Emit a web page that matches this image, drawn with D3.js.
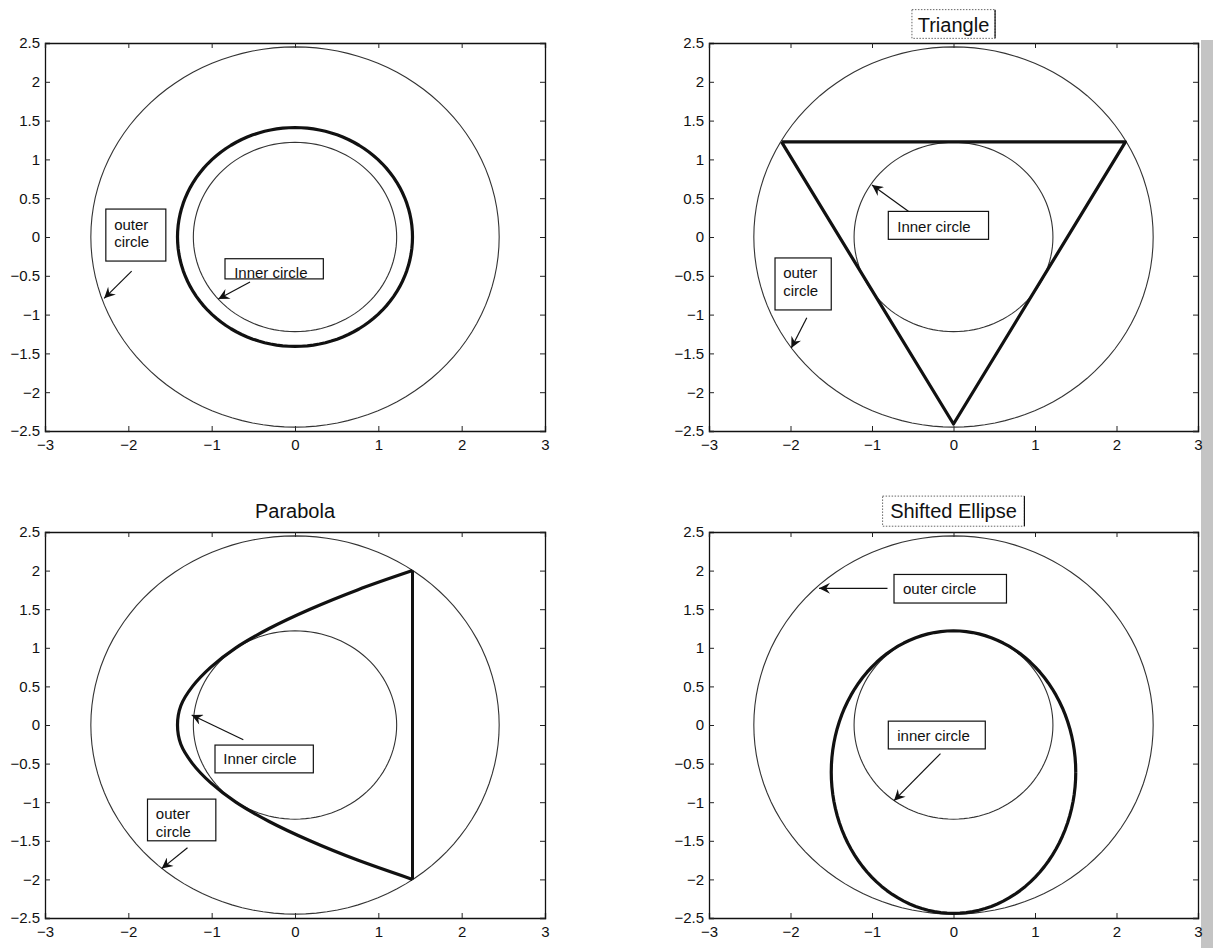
<!DOCTYPE html>
<html>
<head>
<meta charset="utf-8">
<script src="https://cdn.jsdelivr.net/npm/d3@7"></script>
<style>
body { margin: 0; background: #fff; }
text { font-family: "Liberation Sans", Arial, sans-serif; }
</style>
</head>
<body>
<svg id="chart" width="1213" height="948"></svg>
<script>
// axis ticks shared by all four panels
var xTicks = [-3, -2, -1, 0, 1, 2, 3];
var yTicks = [2.5, 2, 1.5, 1, 0.5, 0, -0.5, -1, -1.5, -2, -2.5];
var xDomain = [-3, 3];
var yDomain = [-2.5, 2.5];

// the two reference circles (radius)
var outerRadius = 2.45;
var innerRadius = 1.22;

// panel 1: circle test curve
var circleRadius = 1.41;
// panel 2: triangle vertices
var triangleX = [-2.11, 2.11, 0, -2.11];
var triangleY = [1.225, 1.225, -2.41, 1.225];
// panel 3: parabola, read along y, closed by the vertical side at x = 1.41
var parabolaY = [2, 1.75, 1.5, 1.25, 1, 0.75, 0.5, 0.25, 0, -0.25, -0.5, -0.75, -1, -1.25, -1.5, -1.75, -2];
var parabolaX = [1.41, 0.75, 0.18, -0.31, -0.71, -1.01, -1.23, -1.37, -1.41, -1.37, -1.23, -1.01, -0.71, -0.31, 0.18, 0.75, 1.41];
// panel 4: shifted ellipse centre and semi-axes
var ellipseCx = 0, ellipseCy = -0.61, ellipseA = 1.5, ellipseB = 1.83;

var titles = ['', 'Triangle', 'Parabola', 'Shifted Ellipse'];

// panel boxes in pixels
var panels = [
  {left: 45, top: 43, width: 500, height: 388},
  {left: 709, top: 43, width: 489, height: 388},
  {left: 45, top: 532, width: 500, height: 386},
  {left: 709, top: 532, width: 489, height: 386}
];

// annotation layout per panel, in axis units: box [x0, y0, x1, y1], text start and line centres, arrow [x1, y1, x2, y2]
var notes = [
  [
    {lines: ['outer', 'circle'], box: [-2.27, 0.36, -1.55, -0.31], tx: -2.17, ty: [0.16, -0.06], arrow: [-1.96, -0.44, -2.29, -0.79]},
    {lines: ['Inner circle'], box: [-0.84, -0.28, 0.34, -0.54], tx: -0.73, ty: [-0.46], arrow: [-0.54, -0.58, -0.92, -0.8]}
  ],
  [
    {lines: ['outer', 'circle'], box: [-2.19, -0.27, -1.5, -0.94], tx: -2.09, ty: [-0.46, -0.69], arrow: [-1.8, -1.04, -1.99, -1.43]},
    {lines: ['Inner circle'], box: [-0.8, 0.33, 0.43, -0.03], tx: -0.69, ty: [0.14], arrow: [-0.55, 0.33, -1.0, 0.67]}
  ],
  [
    {lines: ['outer', 'circle'], box: [-1.77, -0.96, -0.95, -1.5], tx: -1.67, ty: [-1.15, -1.38], arrow: [-1.29, -1.59, -1.6, -1.86]},
    {lines: ['Inner circle'], box: [-0.96, -0.26, 0.22, -0.62], tx: -0.86, ty: [-0.44], arrow: [-0.62, -0.19, -1.24, 0.13]}
  ],
  [
    {lines: ['outer circle'], box: [-0.73, 1.95, 0.65, 1.58], tx: -0.62, ty: [1.77], arrow: [-0.81, 1.77, -1.65, 1.77]},
    {lines: ['inner circle'], box: [-0.8, 0.05, 0.39, -0.31], tx: -0.69, ty: [-0.14], arrow: [-0.16, -0.37, -0.73, -0.98]}
  ]
];
// title box (axis units) for the boxed titles, null when plain
var titleBoxes = [null, [-0.51, 2.93, 0.51, 2.56], null, [-0.87, 2.965, 0.87, 2.575]];
var titleY = [0, 2.74, 2.77, 2.77];

var svg = d3.select('#chart');
var defs = svg.append('defs');
defs.append('marker')
    .attr('id', 'arrow')
    .attr('viewBox', '0 0 10 10')
    .attr('refX', 10).attr('refY', 5)
    .attr('markerWidth', 13).attr('markerHeight', 11)
    .attr('markerUnits', 'userSpaceOnUse')
    .attr('orient', 'auto')
  .append('path')
    .attr('d', 'M0,0L10,5L0,10L3.5,5Z')
    .attr('fill', '#111');

// scan shading along the right edge
svg.append('rect').attr('x', 1201).attr('y', 40).attr('width', 12).attr('height', 908).attr('fill', '#c4c4c4');

var ellipsePts = function (cx, cy, rx, ry) {
  return d3.range(0, 361, 3).map(function (a) {
    var t = a * Math.PI / 180;
    return [cx + rx * Math.cos(t), cy + ry * Math.sin(t)];
  });
};
var fmt = function (d) { return d < 0 ? '\u2212' + (-d) : String(d); };

panels.forEach(function (p, i) {
  var x = d3.scaleLinear().domain(xDomain).range([0, p.width]);
  var y = d3.scaleLinear().domain(yDomain).range([p.height, 0]);
  var g = svg.append('g').attr('transform', 'translate(' + p.left + ',' + p.top + ')');
  var line = d3.line().x(function (d) { return x(d[0]); }).y(function (d) { return y(d[1]); });

  g.append('rect').attr('width', p.width).attr('height', p.height).attr('fill', '#fff');

  // frame with inward ticks on all four sides
  g.append('g').attr('transform', 'translate(0,' + p.height + ')')
      .call(d3.axisBottom(x).tickValues(xTicks).tickSize(-5).tickPadding(8).tickFormat(fmt));
  g.append('g').call(d3.axisLeft(y).tickValues(yTicks).tickSize(-5).tickPadding(5).tickFormat(fmt));
  g.append('g').call(d3.axisTop(x).tickValues(xTicks).tickSize(-5).tickFormat(''));
  g.append('g').attr('transform', 'translate(' + p.width + ',0)')
      .call(d3.axisRight(y).tickValues(yTicks).tickSize(-5).tickFormat(''));
  g.selectAll('.domain').attr('stroke', '#111').attr('stroke-width', 1.3);
  g.selectAll('.tick line').attr('stroke', '#222');
  g.selectAll('.tick text').attr('font-size', 15).attr('fill', '#111')
      .attr('font-family', '"Liberation Sans", Arial, sans-serif');

  // reference circles
  g.append('path').datum(ellipsePts(0, 0, outerRadius, outerRadius))
      .attr('d', line).attr('fill', 'none').attr('stroke', '#333').attr('stroke-width', 1.1);
  g.append('path').datum(ellipsePts(0, 0, innerRadius, innerRadius))
      .attr('d', line).attr('fill', 'none').attr('stroke', '#333').attr('stroke-width', 1.1);

  // test curve
  var curve, path = line;
  if (i === 0) {
    curve = ellipsePts(0, 0, circleRadius, circleRadius);
  } else if (i === 1) {
    curve = triangleX.map(function (v, k) { return [v, triangleY[k]]; });
  } else if (i === 2) {
    curve = parabolaX.map(function (v, k) { return [v, parabolaY[k]]; });
    path = d3.line().x(function (d) { return x(d[0]); }).y(function (d) { return y(d[1]); }).curve(d3.curveCatmullRom);
  } else {
    curve = ellipsePts(ellipseCx, ellipseCy, ellipseA, ellipseB);
  }
  g.append('path').datum(curve)
      .attr('d', path)
      .attr('fill', 'none').attr('stroke', '#111').attr('stroke-width', 3.2)
      .attr('stroke-linejoin', 'round');
  if (i === 2) {
    g.append('line').attr('x1', x(parabolaX[0])).attr('y1', y(parabolaY[0]))
        .attr('x2', x(parabolaX[parabolaX.length - 1])).attr('y2', y(parabolaY[parabolaY.length - 1]))
        .attr('stroke', '#111').attr('stroke-width', 3);
  }

  // title
  if (titles[i]) {
    var tb = titleBoxes[i];
    if (tb) {
      g.append('rect').attr('x', x(tb[0])).attr('y', y(tb[1]))
          .attr('width', x(tb[2]) - x(tb[0])).attr('height', y(tb[3]) - y(tb[1]))
          .attr('fill', 'none').attr('stroke', '#666').attr('stroke-width', 1).attr('stroke-dasharray', '1.5,1.5');
      g.append('line').attr('x1', x(tb[2])).attr('x2', x(tb[2])).attr('y1', y(tb[1])).attr('y2', y(tb[3]))
          .attr('stroke', '#111').attr('stroke-width', 1.2);
    }
    g.append('text').attr('x', x(0)).attr('y', y(titleY[i]))
        .attr('dy', '0.36em')
        .attr('text-anchor', 'middle').attr('font-size', 20).attr('fill', '#111')
        .text(titles[i]);
  }

  // annotation boxes and arrows
  notes[i].forEach(function (n) {
    g.append('rect').attr('x', x(n.box[0])).attr('y', y(n.box[1]))
        .attr('width', x(n.box[2]) - x(n.box[0])).attr('height', y(n.box[3]) - y(n.box[1]))
        .attr('fill', '#fff').attr('stroke', '#111').attr('stroke-width', 1.2);
    n.lines.forEach(function (s, k) {
      g.append('text').attr('x', x(n.tx)).attr('y', y(n.ty[k])).attr('dy', '0.36em')
          .attr('font-size', 15).attr('fill', '#111').text(s);
    });
    g.append('line').attr('x1', x(n.arrow[0])).attr('y1', y(n.arrow[1]))
        .attr('x2', x(n.arrow[2])).attr('y2', y(n.arrow[3]))
        .attr('stroke', '#111').attr('stroke-width', 1.2).attr('marker-end', 'url(#arrow)');
  });
});
</script>
</body>
</html>
